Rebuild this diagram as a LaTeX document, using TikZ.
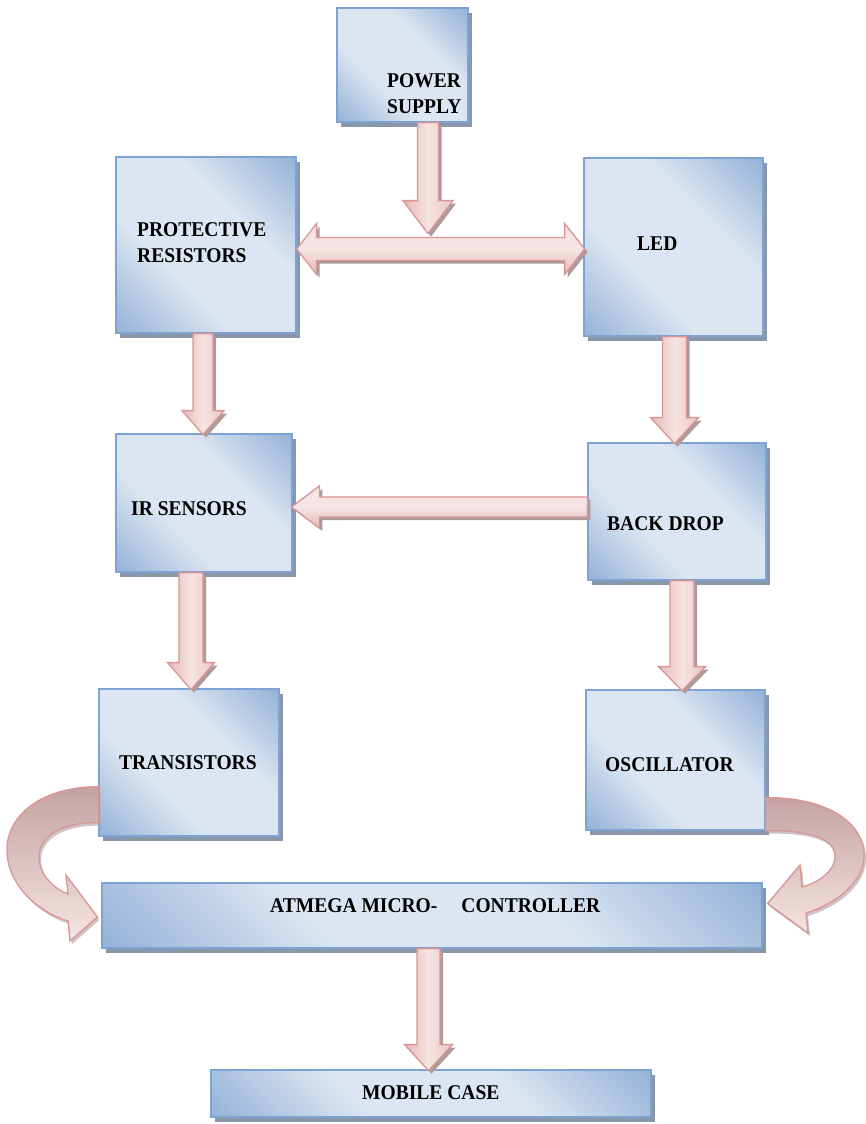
\documentclass[tikz,border=0pt]{standalone}
\usepackage{fontspec}
\setmainfont[FakeStretch=0.93]{Liberation Serif}
\usepackage{xcolor}
\usepackage{tikz}
\usetikzlibrary{shadows}
\usetikzlibrary{positioning}
\usetikzlibrary{shadings}
\usetikzlibrary{calc}
\definecolor{blight}{HTML}{DCE6F2}
\definecolor{bdark}{HTML}{95B3D7}
\definecolor{boxborder}{RGB}{125,162,212}
\definecolor{boxshadow}{HTML}{8A97A8}
\definecolor{arrowborder}{HTML}{D99694}
\definecolor{arrowlight}{HTML}{F6E4E4}
\definecolor{arrowmid}{HTML}{E6B8B7}
\definecolor{arrowshadow}{HTML}{AD9A9A}
\definecolor{curvedark}{HTML}{C4A2A2}
\pgfdeclarehorizontalshading{boxshade}{100bp}{color(0bp)=(bdark); color(15bp)=(bdark); color(38bp)=(blight); color(62bp)=(blight); color(85bp)=(bdark); color(100bp)=(bdark)}
\tikzstyle{block}=[rectangle,draw=boxborder,line width=1.2pt,shading=boxshade,shading angle=45,inner sep=0pt,drop shadow={shadow xshift=4pt,shadow yshift=-5pt,fill=boxshadow,opacity=1}]
\tikzstyle{blocktext}=[font=\bfseries\fontsize{21}{26}\selectfont,inner sep=0pt,align=left,anchor=west]
\tikzstyle{bigarrow}=[draw=arrowborder,line width=1.3pt,left color=arrowmid,right color=arrowmid!70!arrowlight,middle color=arrowlight,drop shadow={shadow xshift=3pt,shadow yshift=-3pt,fill=arrowshadow,opacity=1}]
\tikzstyle{sidearrow}=[bigarrow,top color=arrowlight,bottom color=arrowmid,middle color=arrowlight]
\tikzstyle{bentarrow}=[draw=arrowborder,line width=1.3pt,top color=curvedark,bottom color=arrowlight,drop shadow={shadow xshift=2pt,shadow yshift=-3pt,fill=arrowshadow,opacity=.6}]

\begin{document}
\begin{tikzpicture}[x=1pt,y=-1pt]
  \useasboundingbox (0,0) rectangle (865,1124);

  % blocks
   \foreach \x/\y/\w/\h/\name in {402.5/65/131/114/ps, 206/245/180/176/pr, 673.5/247/179/178/led, 204/503/176/138/ir, 677/511.5/178/137/bd, 189/762.5/180/147/tr, 675.5/760/179/140/osc}
          \node[block, minimum width=\w, minimum height=\h] (\name) at (\x,\y) {};

   \foreach \x/\y/\w/\h/\name in {432/915.5/660/65/mcu, 431/1093.5/440/47/mc}
          \node[block, minimum width=\w, minimum height=\h] (\name) at (\x,\y) {};

  % texts
   \foreach \x/\y/\name/\label in {387/94/pstxt/{POWER\\SUPPLY}, 137/243/prtxt/{PROTECTIVE\\RESISTORS}, 637/244/ledtxt/LED, 131/508.5/irtxt/IR SENSORS, 607/523.5/bdtxt/BACK DROP, 119/762.5/trtxt/TRANSISTORS, 605/764.5/osctxt/OSCILLATOR}
          \node[blocktext] (\name) at (\x,\y) {\label};

   \foreach \x/\y/\name/\label in {270/906/mcutxt/{ATMEGA MICRO-\hspace{24pt}CONTROLLER}, 362/1092.5/mctxt/MOBILE CASE}
          \node[blocktext] (\name) at (\x,\y) {\label};

  % straight arrows down
  \foreach \src/\dx/\len/\sw/\hw/\hl in {ps/25.5/111/10.5/25/33, pr/-3/101/10/21/24, led/1/107/12/24/26, ir/-13/117/12/23.5/27, bd/5/110/12/23.5/24, mcu/-3.5/122/11.5/24/26}
         \path[bigarrow] ($(\src.south)+(\dx,0)$) -- ++(\sw,0) -- ++(0,\len-\hl) -- ++(\hw-\sw,0) -- ++(-\hw,\hl) -- ++(-\hw,-\hl) -- ++(\hw-\sw,0) -- ++(0,\hl-\len) -- cycle;

  % side arrows
  \path[sidearrow] ($(pr.east)+(0,4)$) -- ++(20,-25.5) -- ++(0,14) -- ++(248,0) -- ++(0,-14) -- ++(20,25.5) -- ++(-20,25.5) -- ++(0,-14) -- ++(-248,0) -- ++(0,14) -- cycle;
  \path[sidearrow] ($(bd.west)+(0,-4.5)$) -- ++(0,-10) -- ++(-268,0) -- ++(0,-11) -- ++(-28,21) -- ++(28,21) -- ++(0,-11) -- ++(268,0) -- cycle;

  % bent arrows into the controller
  \path[bentarrow] ($(tr.south west)+(0,-50)$) .. controls (38,787) and (5,818) .. (7,853)
         .. controls (9,887) and (40,913) .. (68,921) -- (70,941) -- ($(mcu.west)+(-4,1.5)$) -- (66,875) -- (68,894)
         .. controls (52,888) and (39,873) .. (39,857) .. controls (39,836) and (62,822) .. ($(tr.south west)+(0,-14)$) -- cycle;
  \path[bentarrow] ($(osc.south east)+(0,-33)$) .. controls (830,797) and (866,825) .. (864,858)
         .. controls (862,886) and (830,906) .. (806,913) -- (808,933) -- ($(mcu.east)+(5,-12)$) -- (800,865) -- (802,887)
         .. controls (820,882) and (835,870) .. (835,857) .. controls (835,840) and (815,830) .. (osc.south east) -- cycle;

\end{tikzpicture}
\end{document}
